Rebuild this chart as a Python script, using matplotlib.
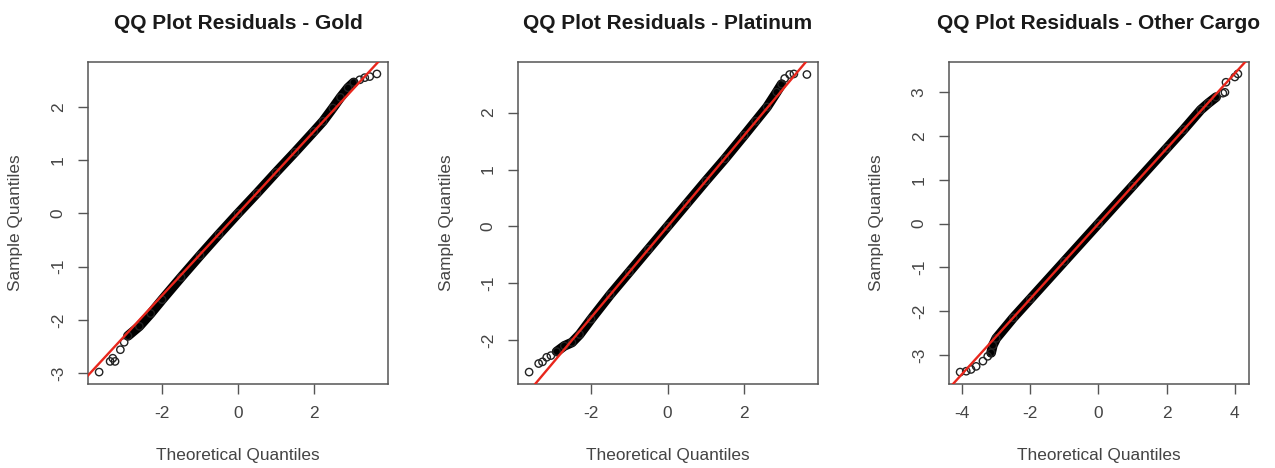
import numpy as np
import matplotlib
matplotlib.use("Agg")
import matplotlib.pyplot as plt

plt.rcParams["font.family"] = ["Liberation Sans", "DejaVu Sans"]

# residual quantiles per cargo type (theoretical, sample)
gold_theo = [-3.66, -3.37, -3.30, -3.24, -3.10, -3.00, -2.90, -2.60, -2.30, -2.00, -1.50,
             -1.00, -0.50, 0.00, 0.50, 1.00, 1.50, 2.00, 2.24, 2.50, 2.70, 2.90, 3.05,
             3.21, 3.34, 3.47, 3.66]
gold_sample = [-2.98, -2.78, -2.72, -2.78, -2.56, -2.42, -2.30, -2.12, -1.88, -1.62, -1.20,
               -0.79, -0.39, 0.00, 0.38, 0.77, 1.15, 1.54, 1.73, 1.98, 2.18, 2.36, 2.46,
               2.51, 2.55, 2.57, 2.62]

plat_theo = [-3.62, -3.37, -3.27, -3.16, -3.05, -2.90, -2.70, -2.50, -2.30, -2.00, -1.50,
             -1.00, -0.50, 0.00, 0.50, 1.00, 1.50, 2.00, 2.30, 2.60, 2.85, 2.98, 3.06,
             3.19, 3.30, 3.64]
plat_sample = [-2.56, -2.41, -2.38, -2.30, -2.27, -2.20, -2.10, -2.04, -1.90, -1.63, -1.20,
               -0.80, -0.40, 0.00, 0.40, 0.80, 1.19, 1.60, 1.85, 2.10, 2.36, 2.50, 2.60,
               2.67, 2.68, 2.67]

other_theo = [-4.06, -3.88, -3.74, -3.59, -3.39, -3.25, -3.15, -3.10, -3.00, -2.50, -2.00,
              -1.00, 0.00, 1.00, 2.00, 2.50, 3.00, 3.22, 3.45, 3.65, 3.71, 3.74, 4.00, 4.09]
other_sample = [-3.39, -3.37, -3.33, -3.26, -3.14, -3.03, -2.95, -2.78, -2.62, -2.15, -1.72,
                -0.86, 0.00, 0.86, 1.72, 2.15, 2.60, 2.75, 2.89, 2.98, 3.00, 3.23, 3.35, 3.42]

# qqline fits: intercept, slope
gold_line = (0.0, 0.77)
plat_line = (0.0, 0.80)
other_line = (0.0, 0.858)

titles = ["QQ Plot Residuals - Gold", "QQ Plot Residuals - Platinum",
          "QQ Plot Residuals - Other Cargo"]
xticks = [[-2, 0, 2], [-2, 0, 2], [-4, -2, 0, 2, 4]]
yticks = [[-3, -2, -1, 0, 1, 2], [-2, -1, 0, 1, 2], [-3, -2, -1, 0, 1, 2, 3]]

panels = [(gold_theo, gold_sample, gold_line),
          (plat_theo, plat_sample, plat_line),
          (other_theo, other_sample, other_line)]

# dense middle of each series is drawn as a band, isolated tail points as circles
band_cut = [(-2.95, 3.1), (-2.95, 3.0), (-3.2, 3.5)]

lefts = [88, 518, 949]
W, H = 1275, 468

fig = plt.figure(figsize=(W / 100, H / 100), dpi=100)
fig.patch.set_facecolor("white")

for i, (theo, samp, (a, b)) in enumerate(panels):
    ax = fig.add_axes([lefts[i] / W, 1 - 384 / H, 300 / W, 322 / H])
    theo = np.array(theo)
    samp = np.array(samp)

    lo, hi = band_cut[i]
    m = (theo >= lo) & (theo <= hi)
    ax.plot(theo[m], samp[m], color="black", lw=7.0, solid_capstyle="round",
            solid_joinstyle="round", zorder=2)
    ax.scatter(theo, samp, s=28, facecolors="none", edgecolors="#222222",
               linewidths=1.0, zorder=3)
    ax.axline((0, a), slope=b, color="#e8261c", lw=1.7, zorder=4)

    # R-style 4% padding around the data range
    xr = theo.max() - theo.min()
    yr = samp.max() - samp.min()
    ax.set_xlim(theo.min() - 0.04 * xr, theo.max() + 0.04 * xr)
    ax.set_ylim(samp.min() - 0.04 * yr, samp.max() + 0.04 * yr)

    ax.set_xticks(xticks[i])
    ax.set_yticks(yticks[i])
    ax.set_xticklabels([str(t) for t in xticks[i]])
    ax.set_yticklabels([str(t) for t in yticks[i]], rotation=90, va="center")
    ax.tick_params(axis="both", length=7, width=1.0, color="#555555",
                   labelcolor="#444444", labelsize=12.4)
    ax.tick_params(axis="x", pad=9)
    ax.tick_params(axis="y", pad=9)
    for sp in ax.spines.values():
        sp.set_color("#555555")
        sp.set_linewidth(1.1)

    ax.set_title(titles[i], fontsize=15, fontweight="bold", color="#1a1a1a", pad=24)
    ax.set_xlabel("Theoretical Quantiles", fontsize=12.4, color="#444444")
    ax.set_ylabel("Sample Quantiles", fontsize=12.4, color="#444444")
    ax.xaxis.set_label_coords(0.5, -0.2)
    ax.yaxis.set_label_coords(-0.215, 0.5)

fig.savefig("out.png", dpi=100)
